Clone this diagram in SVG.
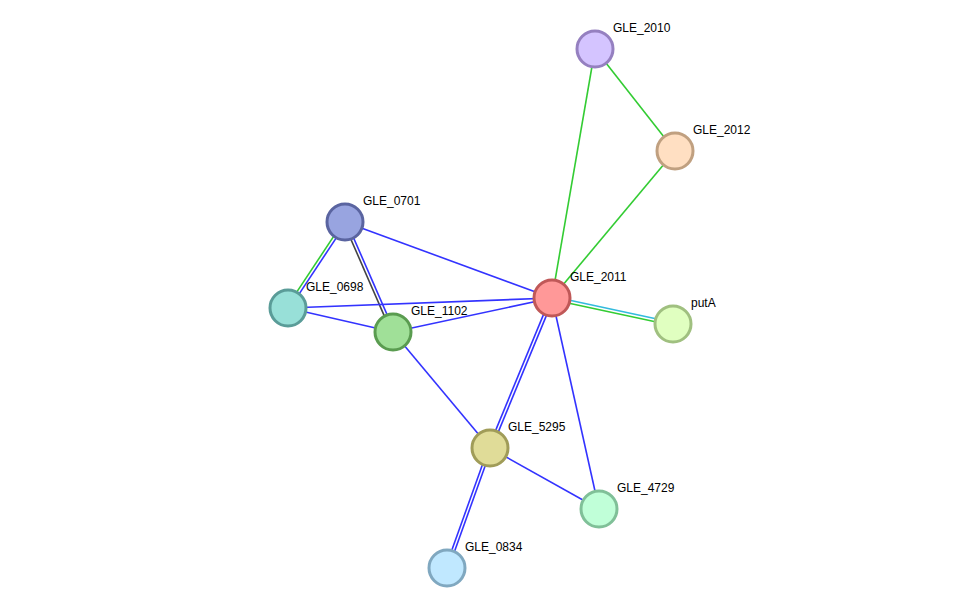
<svg xmlns="http://www.w3.org/2000/svg" width="975" height="614" viewBox="0 0 975 614">
<style>
.e{stroke-width:1.6;fill:none}
.b{stroke:#3333ff}
.g{stroke:#33cc33}
.k{stroke:#444444}
.c{stroke:#33bbdd}
.n{stroke-width:3}
.t{font-family:"Liberation Sans",Arial,sans-serif;font-size:12px;fill:#000}
</style>
<rect width="975" height="614" fill="#ffffff"/>
<g id="connectors">
<line class="e g" x1="595" y1="49" x2="675" y2="151"/>
<line class="e g" x1="595" y1="49" x2="552" y2="298"/>
<line class="e g" x1="675" y1="151" x2="552" y2="298"/>
<line class="e c" x1="552.3" y1="296.5" x2="673.3" y2="322.5"/>
<line class="e g" x1="551.7" y1="299.5" x2="672.7" y2="325.5"/>
<line class="e b" x1="345" y1="222" x2="552" y2="298"/>
<line class="e g" x1="343.75" y1="221.17" x2="286.75" y2="307.17"/>
<line class="e b" x1="346.25" y1="222.83" x2="289.25" y2="308.83"/>
<line class="e k" x1="343.6" y1="222.6" x2="391.6" y2="332.6"/>
<line class="e b" x1="346.4" y1="221.4" x2="394.4" y2="331.4"/>
<line class="e b" x1="288" y1="308" x2="552" y2="298"/>
<line class="e b" x1="288" y1="308" x2="393" y2="332"/>
<line class="e b" x1="393" y1="332" x2="552" y2="298"/>
<line class="e b" x1="393" y1="332" x2="490" y2="448"/>
<line class="e b" x1="550.6" y1="297.4" x2="488.6" y2="447.4"/>
<line class="e b" x1="553.4" y1="298.6" x2="491.4" y2="448.6"/>
<line class="e b" x1="552" y1="298" x2="599" y2="509"/>
<line class="e b" x1="490" y1="448" x2="599" y2="509"/>
<line class="e b" x1="488.6" y1="447.5" x2="445.6" y2="567.5"/>
<line class="e b" x1="491.4" y1="448.5" x2="448.4" y2="568.5"/>
</g>
<g id="GLE_2010"><circle class="n" cx="595" cy="49" r="18" fill="#d4c4ff" stroke="#9580c0"/><text class="t" x="613" y="32">GLE_2010</text></g>
<g id="GLE_2012"><circle class="n" cx="675" cy="151" r="18" fill="#ffdfc2" stroke="#c0a080"/><text class="t" x="693" y="134">GLE_2012</text></g>
<g id="GLE_0701"><circle class="n" cx="345" cy="222" r="18" fill="#98a4e0" stroke="#5a64a0"/><text class="t" x="363" y="205">GLE_0701</text></g>
<g id="GLE_0698"><circle class="n" cx="288" cy="308" r="18" fill="#98e0d8" stroke="#5a9c98"/><text class="t" x="306" y="291">GLE_0698</text></g>
<g id="GLE_1102"><circle class="n" cx="393" cy="332" r="18" fill="#a0e098" stroke="#5a9c50"/><text class="t" x="411" y="315">GLE_1102</text></g>
<g id="GLE_2011"><circle class="n" cx="552" cy="298" r="18" fill="#ff9898" stroke="#c05858"/><text class="t" x="570" y="281">GLE_2011</text></g>
<g id="putA"><circle class="n" cx="673" cy="324" r="18" fill="#e0ffc0" stroke="#a0c080"/><text class="t" x="691" y="307">putA</text></g>
<g id="GLE_5295"><circle class="n" cx="490" cy="448" r="18" fill="#e0dc98" stroke="#a09c58"/><text class="t" x="508" y="431">GLE_5295</text></g>
<g id="GLE_4729"><circle class="n" cx="599" cy="509" r="18" fill="#c0ffd8" stroke="#80c098"/><text class="t" x="617" y="492">GLE_4729</text></g>
<g id="GLE_0834"><circle class="n" cx="447" cy="568" r="18" fill="#c0e8ff" stroke="#80a8c0"/><text class="t" x="465" y="551">GLE_0834</text></g>
</svg>
